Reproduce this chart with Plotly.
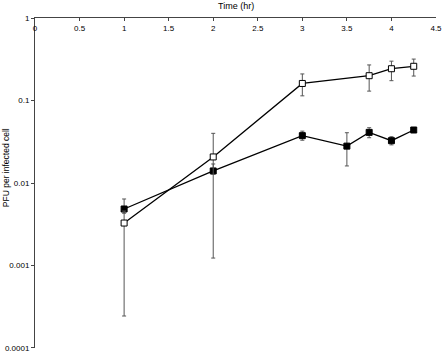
import plotly.graph_objects as go

time_open = [1, 2, 3, 3.75, 4, 4.25]
pfu_open = [0.00327, 0.0207, 0.161, 0.20, 0.243, 0.26]
err_open_plus = [0.0013, 0.0193, 0.049, 0.07, 0.057, 0.058]
err_open_minus = [0.003026, 0.008, 0.047, 0.07, 0.069, 0.062]

time_filled = [1, 2, 3, 3.5, 3.75, 4, 4.25]
pfu_filled = [0.00484, 0.014, 0.0375, 0.028, 0.0411, 0.0326, 0.0439]
err_filled_plus = [0.00156, 0.003, 0.005, 0.0127, 0.0057, 0.0038, 0.0]
err_filled_minus = [0.00054, 0.01277, 0.0045, 0.0119, 0.0057, 0.0036, 0.0]

ytick_vals = [0.0001, 0.001, 0.01, 0.1, 1]
ytick_text = ["0.0001", "0.001", "0.01", "0.1", "1"]
xtick_vals = [0, 0.5, 1, 1.5, 2, 2.5, 3, 3.5, 4, 4.5]
xtick_text = ["0", "0.5", "1", "1.5", "2", "2.5", "3", "3.5", "4", "4.5"]

font = "Liberation Sans, Arial, sans-serif"

fig = go.Figure()
fig.add_trace(go.Scatter(
    x=time_filled, y=pfu_filled, mode="lines+markers",
    line=dict(color="black", width=1.3),
    marker=dict(symbol="square", size=6, color="black", line=dict(color="black", width=1)),
    error_y=dict(type="data", symmetric=False, array=err_filled_plus, arrayminus=err_filled_minus,
                 color="#555555", thickness=1, width=2),
    showlegend=False,
))
fig.add_trace(go.Scatter(
    x=time_open, y=pfu_open, mode="lines+markers",
    line=dict(color="black", width=1.3),
    marker=dict(symbol="square", size=6, color="white", line=dict(color="black", width=1)),
    error_y=dict(type="data", symmetric=False, array=err_open_plus, arrayminus=err_open_minus,
                 color="#555555", thickness=1, width=2),
    showlegend=False,
))

fig.update_layout(
    width=444, height=355,
    margin=dict(l=35, r=8, t=18, b=7),
    paper_bgcolor="white", plot_bgcolor="white",
    font=dict(family=font, size=8, color="black"),
    xaxis=dict(
        side="top", range=[0, 4.5], tickvals=xtick_vals, ticktext=xtick_text,
        ticks="inside", ticklen=3, tickcolor="#444",
        ticklabelstandoff=-17, automargin=False,
        showline=True, linecolor="#444", linewidth=1, showgrid=False, zeroline=False,
    ),
    yaxis=dict(
        type="log", range=[-4.0005, 0.0005], tickvals=ytick_vals, ticktext=ytick_text,
        ticks="outside", ticklen=3, tickcolor="#444", automargin=False,
        showline=True, linecolor="#444", linewidth=1, showgrid=False, zeroline=False,
    ),
    annotations=[
        dict(text="Time (hr)", xref="paper", yref="paper", x=0.5, y=1, yshift=12,
             showarrow=False, font=dict(size=9, family=font), yanchor="middle"),
        dict(text="PFU per infected cell", xref="paper", yref="paper", x=0, xshift=-29, y=0.545,
             showarrow=False, textangle=-90, font=dict(size=8.5, family=font),
             xanchor="center", yanchor="middle"),
    ],
)

fig.write_html("out.html", config={"displayModeBar": False},
               post_script="document.body.style.margin='0';")
